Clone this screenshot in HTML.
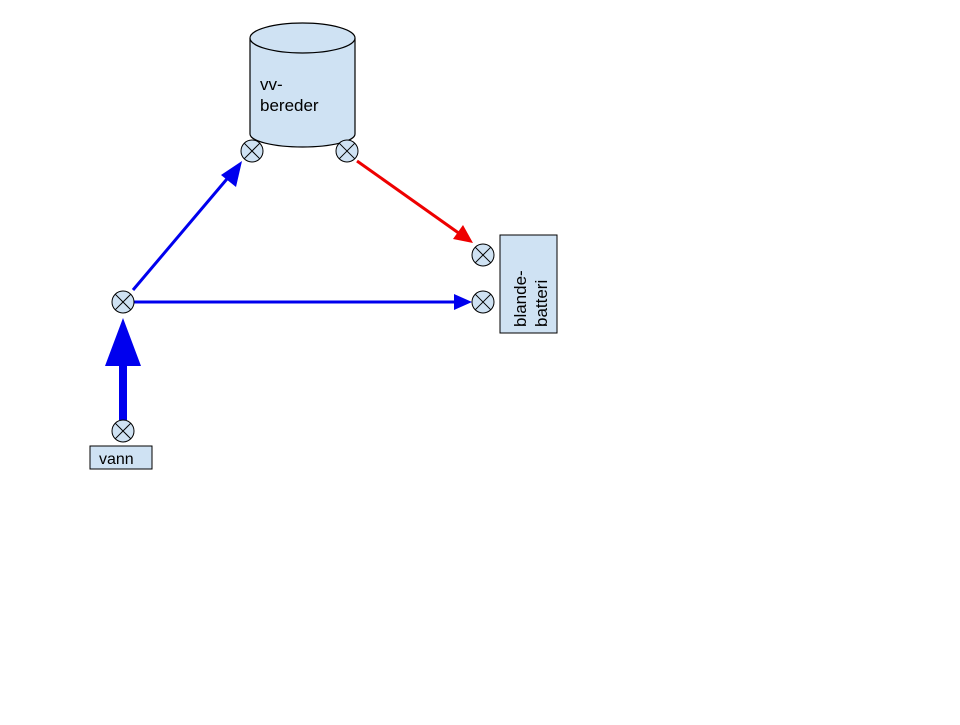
<!DOCTYPE html>
<html><head><style>body{margin:0;background:#fff}</style></head><body>
<svg width="960" height="720" xmlns="http://www.w3.org/2000/svg" font-family="Liberation Sans, sans-serif">
<defs>
<g id="v"><circle r="11" fill="#cfe2f3" stroke="#000" stroke-width="1"/><line x1="-7.8" y1="-7.8" x2="7.8" y2="7.8" stroke="#000"/><line x1="-7.8" y1="7.8" x2="7.8" y2="-7.8" stroke="#000"/></g>
</defs>
<path d="M250,38 L250,134 A52.5,13 0 0 0 355,134 L355,38" fill="#cfe2f3" stroke="#000" stroke-width="1.2"/>
<ellipse cx="302.5" cy="38" rx="52.5" ry="15" fill="#cfe2f3" stroke="#000" stroke-width="1.2"/>
<text x="260" y="90" font-size="17">vv-</text>
<text x="260" y="111" font-size="17">bereder</text>
<rect x="500" y="235" width="57" height="98" fill="#cfe2f3" stroke="#000"/>
<text transform="translate(526,327) rotate(-90)" font-size="17">blande-</text>
<text transform="translate(547,327) rotate(-90)" font-size="17">batteri</text>
<rect x="90" y="446" width="62" height="23" fill="#cfe2f3" stroke="#000"/>
<text x="99" y="464" font-size="16">vann</text>
<line x1="133" y1="290" x2="232" y2="173" stroke="#0000ee" stroke-width="3"/>
<polygon points="242,161 221,175 236,187" fill="#0000ee"/>
<line x1="134" y1="302" x2="456" y2="302" stroke="#0000ee" stroke-width="3"/>
<polygon points="472,302 454,294 454,310" fill="#0000ee"/>
<line x1="357" y1="161" x2="460" y2="234" stroke="#ee0000" stroke-width="3"/>
<polygon points="473,243 453,239 463,225" fill="#ee0000"/>
<line x1="123" y1="420" x2="123" y2="360" stroke="#0000ee" stroke-width="8"/>
<polygon points="123,318 105,366 141,366" fill="#0000ee"/>
<use href="#v" x="252" y="151"/>
<use href="#v" x="347" y="151"/>
<use href="#v" x="483" y="255"/>
<use href="#v" x="483" y="302"/>
<use href="#v" x="123" y="302"/>
<use href="#v" x="123" y="431"/>
</svg>
</body></html>
